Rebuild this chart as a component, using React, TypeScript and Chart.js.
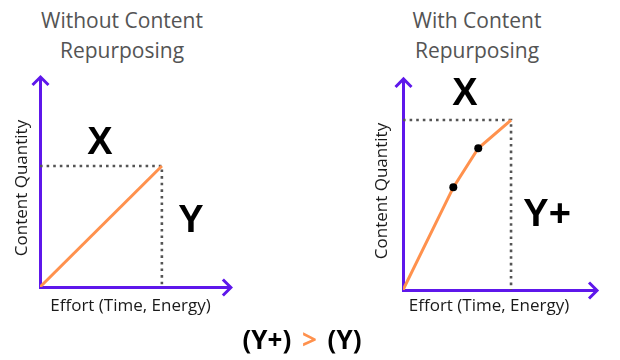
import React, { useEffect, useRef } from 'react';
import { Chart, registerables } from 'chart.js';

Chart.register(...registerables);

// ---- data ----
const withoutEffort = [0, 10.1];
const withoutQuantity = [0, 9.78];
const withEffort = [0, 4.68, 7.0, 10.05];
const withQuantity = [0, 6.22, 8.59, 10.3];
const withMarkers = [0, 4, 4, 0];
const withoutMarkers = [0, 0];

const xAxisLabel = 'Effort (Time, Energy)';
const yAxisLabel = 'Content Quantity';
const leftTitle = ['Without Content', 'Repurposing'];
const rightTitle = ['With Content', 'Repurposing'];
const leftMarks = ['X', 'Y'];
const rightMarks = ['X', 'Y+'];

// ---- styles ----
const PURPLE = '#5e17eb';
const ORANGE = '#ff914d';
const GUIDE = '#545454';
const TITLE_GRAY = '#545454';

type Label = { text: string; x: number; y: number };
type Spec = {
  effort: number[];
  quantity: number[];
  markers: number[];
  xMax: number;
  yMax: number;
  xTip: number;
  yTip: number;
  labels: Label[];
  padding: { left: number; right: number; top: number; bottom: number };
  yTitlePad: { top: number; bottom: number };
  xTitlePad: { top: number; bottom: number };
};

const align = (p: number) => Math.round(p - 1.5) + 1.5;

const sketchPlugin = {
  id: 'sketch',
  beforeDatasetsDraw(chart: any, _args: any, opts: any) {
    const { ctx, scales } = chart;
    const x = scales.x;
    const y = scales.y;
    const ox = align(x.getPixelForValue(0));
    const oy = align(y.getPixelForValue(0));
    const tx = x.getPixelForValue(opts.xTip);
    const ty = y.getPixelForValue(opts.yTip);
    ctx.save();
    ctx.strokeStyle = opts.color;
    ctx.lineWidth = 3;
    ctx.lineCap = 'butt';
    ctx.lineJoin = 'miter';
    ctx.beginPath();
    ctx.moveTo(ox, oy + 1.5);
    ctx.lineTo(ox, ty + 1.5);
    ctx.moveTo(ox - 1.5, oy);
    ctx.lineTo(tx - 1.5, oy);
    ctx.stroke();
    ctx.beginPath();
    ctx.moveTo(ox - 8, ty + 9);
    ctx.lineTo(ox, ty + 1);
    ctx.lineTo(ox + 8, ty + 9);
    ctx.moveTo(tx - 9, oy - 8);
    ctx.lineTo(tx - 1, oy);
    ctx.lineTo(tx - 9, oy + 8);
    ctx.stroke();
    ctx.restore();
  },
  afterDatasetsDraw(chart: any, _args: any, opts: any) {
    const { ctx, scales } = chart;
    ctx.save();
    ctx.font = 'bold 38px "Liberation Sans", Arial, sans-serif';
    ctx.fillStyle = '#000';
    ctx.textAlign = 'center';
    ctx.textBaseline = 'alphabetic';
    for (const l of opts.labels as Label[]) {
      ctx.fillText(
        l.text,
        scales.x.getPixelForValue(l.x),
        scales.y.getPixelForValue(l.y) + 13.6
      );
    }
    ctx.restore();
  },
};

function makeConfig(spec: Spec): any {
  const n = spec.effort.length;
  const ec = spec.effort[n - 1];
  const qc = spec.quantity[n - 1];
  const curve = spec.effort.map((e, i) => ({ x: e, y: spec.quantity[i] }));
  const guide = [
    { x: 0, y: qc },
    { x: ec, y: qc },
    { x: ec, y: 0 },
  ];
  const axisTitleFont = { family: '"Open Sans", sans-serif', size: 17 };
  return {
    type: 'line',
    data: {
      datasets: [
        {
          data: curve,
          borderColor: ORANGE,
          borderWidth: 3,
          tension: 0,
          pointRadius: spec.markers,
          pointBackgroundColor: '#000',
          pointBorderWidth: 0,
          fill: false,
        },
        {
          data: guide,
          borderColor: GUIDE,
          borderWidth: 2.6,
          borderDash: [2.6, 4],
          borderCapStyle: 'butt',
          pointRadius: 0,
          tension: 0,
          fill: false,
        },
      ],
    },
    options: {
      responsive: false,
      animation: false,
      events: [],
      layout: { padding: spec.padding },
      plugins: {
        legend: { display: false },
        tooltip: { enabled: false },
        sketch: {
          color: PURPLE,
          xTip: spec.xTip,
          yTip: spec.yTip,
          labels: spec.labels,
        },
      },
      scales: {
        x: {
          type: 'linear',
          min: 0,
          max: spec.xMax,
          grid: { display: false, drawTicks: false, tickLength: 0 },
          ticks: { display: false },
          border: { display: true, color: PURPLE, width: 3 },
          title: {
            display: true,
            text: xAxisLabel,
            color: '#1a1a1a',
            font: axisTitleFont,
            padding: spec.xTitlePad,
          },
        },
        y: {
          type: 'linear',
          min: 0,
          max: spec.yMax,
          grid: { display: false, drawTicks: false, tickLength: 0 },
          ticks: { display: false },
          border: { display: true, color: PURPLE, width: 3 },
          title: {
            display: true,
            text: yAxisLabel,
            color: '#1a1a1a',
            font: axisTitleFont,
            padding: spec.yTitlePad,
          },
        },
      },
    },
    plugins: [sketchPlugin],
  };
}

const leftSpec: Spec = {
  effort: withoutEffort,
  quantity: withoutQuantity,
  markers: withoutMarkers,
  xMax: 15,
  yMax: 16,
  xTip: 15.9,
  yTip: 17.05,
  labels: [
    { text: leftMarks[0], x: 4.97, y: 11.88 },
    { text: leftMarks[1], x: 12.51, y: 5.58 },
  ],
  padding: { left: 7.8, right: 89, top: 89, bottom: 9.8 },
  yTitlePad: { top: 4, bottom: 7.8 },
  xTitlePad: { top: 8.8, bottom: 4 },
};

const rightSpec: Spec = {
  effort: withEffort,
  quantity: withQuantity,
  markers: withMarkers,
  xMax: 16,
  yMax: 12,
  xTip: 18.14,
  yTip: 12.85,
  labels: [
    { text: rightMarks[0], x: 5.77, y: 12.06 },
    { text: rightMarks[1], x: 13.4, y: 4.73 },
  ],
  padding: { left: 58.3, right: 45, top: 92, bottom: 9.8 },
  yTitlePad: { top: 4, bottom: 10.3 },
  xTitlePad: { top: 5.8, bottom: 4 },
};

function Panel({ spec, left }: { spec: Spec; left: number }) {
  const ref = useRef<HTMLCanvasElement>(null);
  useEffect(() => {
    const chart = new Chart(ref.current as HTMLCanvasElement, makeConfig(spec));
    return () => chart.destroy();
  }, []);
  return (
    <canvas
      ref={ref}
      width={310}
      height={330}
      style={{ position: 'absolute', left, top: 0, width: 310, height: 330 }}
    />
  );
}

function Title({ lines, cx }: { lines: string[]; cx: number }) {
  return (
    <div
      style={{
        position: 'absolute',
        left: cx - 150,
        top: 5,
        width: 300,
        textAlign: 'center',
        fontFamily: '"Open Sans", sans-serif',
        fontSize: 21,
        lineHeight: '30px',
        color: TITLE_GRAY,
      }}
    >
      {lines.map((l, i) => (
        <div key={i}>{l}</div>
      ))}
    </div>
  );
}

export default function App() {
  return (
    <div
      style={{
        position: 'fixed',
        left: 0,
        top: 0,
        width: 620,
        height: 360,
        background: '#fff',
        overflow: 'hidden',
      }}
    >
      <Title lines={leftTitle} cx={122} />
      <Title lines={rightTitle} cx={477} />
      <Panel spec={leftSpec} left={0} />
      <Panel spec={rightSpec} left={310} />
      <div
        style={{
          position: 'absolute',
          left: 152,
          top: 324,
          width: 300,
          textAlign: 'center',
          fontFamily: '"Open Sans", sans-serif',
          fontWeight: 700,
          fontSize: 26,
          wordSpacing: 4,
          lineHeight: '30px',
          color: '#000',
        }}
      >
        (Y+) <span style={{ color: ORANGE }}>&gt;</span> (Y)
      </div>
    </div>
  );
}
